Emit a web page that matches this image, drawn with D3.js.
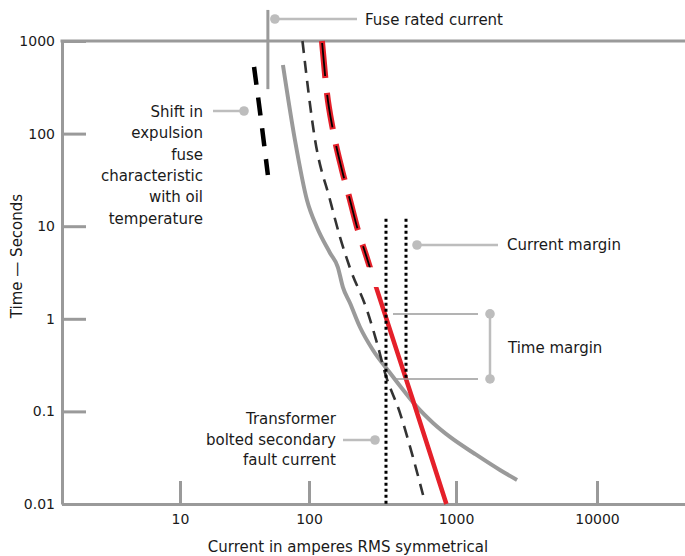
<!DOCTYPE html>
<html><head><meta charset="utf-8">
<script src="https://cdn.jsdelivr.net/npm/d3@7"></script>
<style>
body{margin:0;background:#fff}
svg{display:block}
text{font-family:"DejaVu Sans",sans-serif;fill:#1a1a1a;font-size:15px}
</style>
</head><body>
<svg id="c" width="685" height="556"></svg>
<script>
// ---- data ----
const xTickValues = [10, 100, 1000, 10000];
const yTickValues = [0.01, 0.1, 1, 10, 100, 1000];
const xAnchors = [1.2, 10, 100, 1000, 10000, 42000];
const yExtent = [0.01, 1000];

// curves: [current A, time s]
const grayCurve = [[62.8,551],[77.8,85.3],[96.4,19.2],[113,9.8],[139,5.14],[157,3.62],[170,2.2],[190,1.48],[222,0.815],[272,0.46],[356,0.26],[443,0.166],[543,0.1117],[698,0.075],[910,0.053],[1365,0.0347],[2050,0.0233],[2710,0.0182]];
const darkDashCurve = [[89,1000],[110,85.3],[139,19.2],[162.5,7.64],[190,3.54],[248,1.24],[290,0.548],[329,0.26],[416,0.096],[509,0.0322],[597,0.0125]];
const redCurve = [[122.5,1000],[132.5,274],[145.6,109],[167.6,40.5],[190,19.2],[215,9.1],[244,4.89],[286,2.2],[509,0.133],[860,0.01]];
const oilShiftCurve = [[37.5,525],[42.5,140],[48,35.7]];
const redDashedUntil = 3.6;   // seconds: red dashed above this time
const redSolidFrom = 2.2;     // seconds: red solid below this time

const fuseRatedCurrent = 48;
const fuseLineTimes = [2165, 302];
const faultCurrent = 334;
const faultLineTimes = [12, 0.01];
const marginCurrent = 457;
const marginLineTimes = [12, 0.218];
const timeMarginTimes = [1.13, 0.224];

const xAxisTitle = "Current in amperes RMS symmetrical";
const yAxisTitle = "Time \u2014 Seconds";
const shiftLabel = ["Shift in","expulsion","fuse","characteristic","with oil","temperature"];
const transformerLabel = ["Transformer","bolted secondary","fault current"];

// ---- scales ----
const svg = d3.select("#c");
const x = d3.scaleLog().domain(xAnchors).range([62,180,309,456,597,685]);
const y = d3.scaleLog().domain(yExtent).range([504,41]);

const axisColor = "#9a9a9a", leadColor = "#bdbdbd", red = "#e5202a";

// axes
const gx = svg.append("g").attr("transform",`translate(0,${y(0.01)})`)
  .call(d3.axisBottom(x).tickValues(xTickValues).tickFormat(d3.format("d"))
        .tickSizeInner(-23).tickSizeOuter(0).tickPadding(10));
const gy = svg.append("g").attr("transform",`translate(${x(1.2)},0)`)
  .call(d3.axisLeft(y).tickValues(yTickValues).tickFormat(d => String(d))
        .tickSizeInner(-24).tickSizeOuter(0).tickPadding(7));
[gx,gy].forEach(g=>{
  g.select(".domain").attr("stroke",axisColor).attr("stroke-width",3);
  g.selectAll(".tick line").attr("stroke",axisColor).attr("stroke-width",3);
  g.selectAll(".tick text").attr("fill","#1a1a1a").style("font-size","14px")
    .style("font-family","DejaVu Sans, sans-serif");
});
// top frame line at 1000 s
svg.append("line").attr("x1",x(1.2)-1.5).attr("x2",x(42000)).attr("y1",y(1000)).attr("y2",y(1000))
  .attr("stroke",axisColor).attr("stroke-width",3);

// axis titles
svg.append("text").attr("x",348).attr("y",552).attr("text-anchor","middle").text(xAxisTitle);
svg.append("text").attr("transform","translate(22,256) rotate(-90)").attr("text-anchor","middle").text(yAxisTitle);

const line = d3.line().x(d=>x(d[0])).y(d=>y(d[1])).curve(d3.curveMonotoneX);

// clip paths for red
const defs = svg.append("defs");
defs.append("clipPath").attr("id","redTop").append("rect")
  .attr("x",0).attr("y",0).attr("width",685).attr("height",y(redDashedUntil));
defs.append("clipPath").attr("id","redBot").append("rect")
  .attr("x",0).attr("y",y(redSolidFrom)).attr("width",685).attr("height",556);

// gray curve
svg.append("path").datum(grayCurve).attr("d",line).attr("fill","none")
  .attr("stroke",axisColor).attr("stroke-width",4);
// dark dashed
svg.append("path").datum(darkDashCurve).attr("d",line).attr("fill","none")
  .attr("stroke","#333").attr("stroke-width",2.6).attr("stroke-dasharray","12,8");
// oil shift thick dashed
svg.append("path").datum(oilShiftCurve).attr("d",line).attr("fill","none")
  .attr("stroke","#000").attr("stroke-width",4.5).attr("stroke-dasharray","18,13");
// red dashed top
svg.append("path").datum(redCurve).attr("d",line).attr("fill","none").attr("clip-path","url(#redTop)")
  .attr("stroke",red).attr("stroke-width",6).attr("stroke-dasharray","37,15");
svg.append("path").datum(redCurve).attr("d",line).attr("fill","none").attr("clip-path","url(#redTop)")
  .attr("stroke","#000").attr("stroke-width",1.8).attr("stroke-dasharray","33,19").attr("stroke-dashoffset",-2);
// red solid bottom
svg.append("path").datum(redCurve).attr("d",line).attr("fill","none").attr("clip-path","url(#redBot)")
  .attr("stroke",red).attr("stroke-width",4.5);

// dotted lines
[[faultCurrent,faultLineTimes],[marginCurrent,marginLineTimes]].forEach(([c,ts])=>{
  svg.append("line").attr("x1",x(c)).attr("x2",x(c)).attr("y1",y(ts[0])).attr("y2",y(ts[1]))
    .attr("stroke","#000").attr("stroke-width",3).attr("stroke-dasharray","3,3");
});

// fuse rated current marker
svg.append("line").attr("x1",x(fuseRatedCurrent)).attr("x2",x(fuseRatedCurrent))
  .attr("y1",y(fuseLineTimes[0])).attr("y2",y(fuseLineTimes[1]))
  .attr("stroke",axisColor).attr("stroke-width",3);

// leader helper
function leader(x1,y1,x2,dotX){
  svg.append("line").attr("x1",x1).attr("x2",x2).attr("y1",y1).attr("y2",y1)
    .attr("stroke",leadColor).attr("stroke-width",2.5);
  svg.append("circle").attr("cx",dotX).attr("cy",y1).attr("r",4.8).attr("fill",leadColor);
}
// Fuse rated current
leader(x(fuseRatedCurrent)+7,19,357,x(fuseRatedCurrent)+7);
svg.append("text").attr("x",365).attr("y",25).text("Fuse rated current");
// shift label
leader(213,111,244,244);
svg.append("text").attr("text-anchor","end").selectAll("tspan").data(shiftLabel).join("tspan")
  .attr("x",203).attr("y",(d,i)=>117+i*21.3).text(d=>d);
// current margin
leader(417,245,498,417);
svg.append("text").attr("x",507).attr("y",250).text("Current margin");
// time margin
timeMarginTimes.forEach(t=>{
  svg.append("line").attr("x1",393).attr("x2",478).attr("y1",y(t)).attr("y2",y(t))
    .attr("stroke",axisColor).attr("stroke-width",1.5);
});
svg.append("line").attr("x1",490).attr("x2",490).attr("y1",y(timeMarginTimes[0])).attr("y2",y(timeMarginTimes[1]))
  .attr("stroke",leadColor).attr("stroke-width",2.5);
timeMarginTimes.forEach(t=>{
  svg.append("circle").attr("cx",490).attr("cy",y(t)).attr("r",4.8).attr("fill",leadColor);
});
svg.append("text").attr("x",508).attr("y",353).text("Time margin");
// transformer
leader(343,440,375,375);
svg.append("text").attr("text-anchor","end").selectAll("tspan").data(transformerLabel).join("tspan")
  .attr("x",336).attr("y",(d,i)=>424+i*20.7).text(d=>d);
</script>
</body></html>
